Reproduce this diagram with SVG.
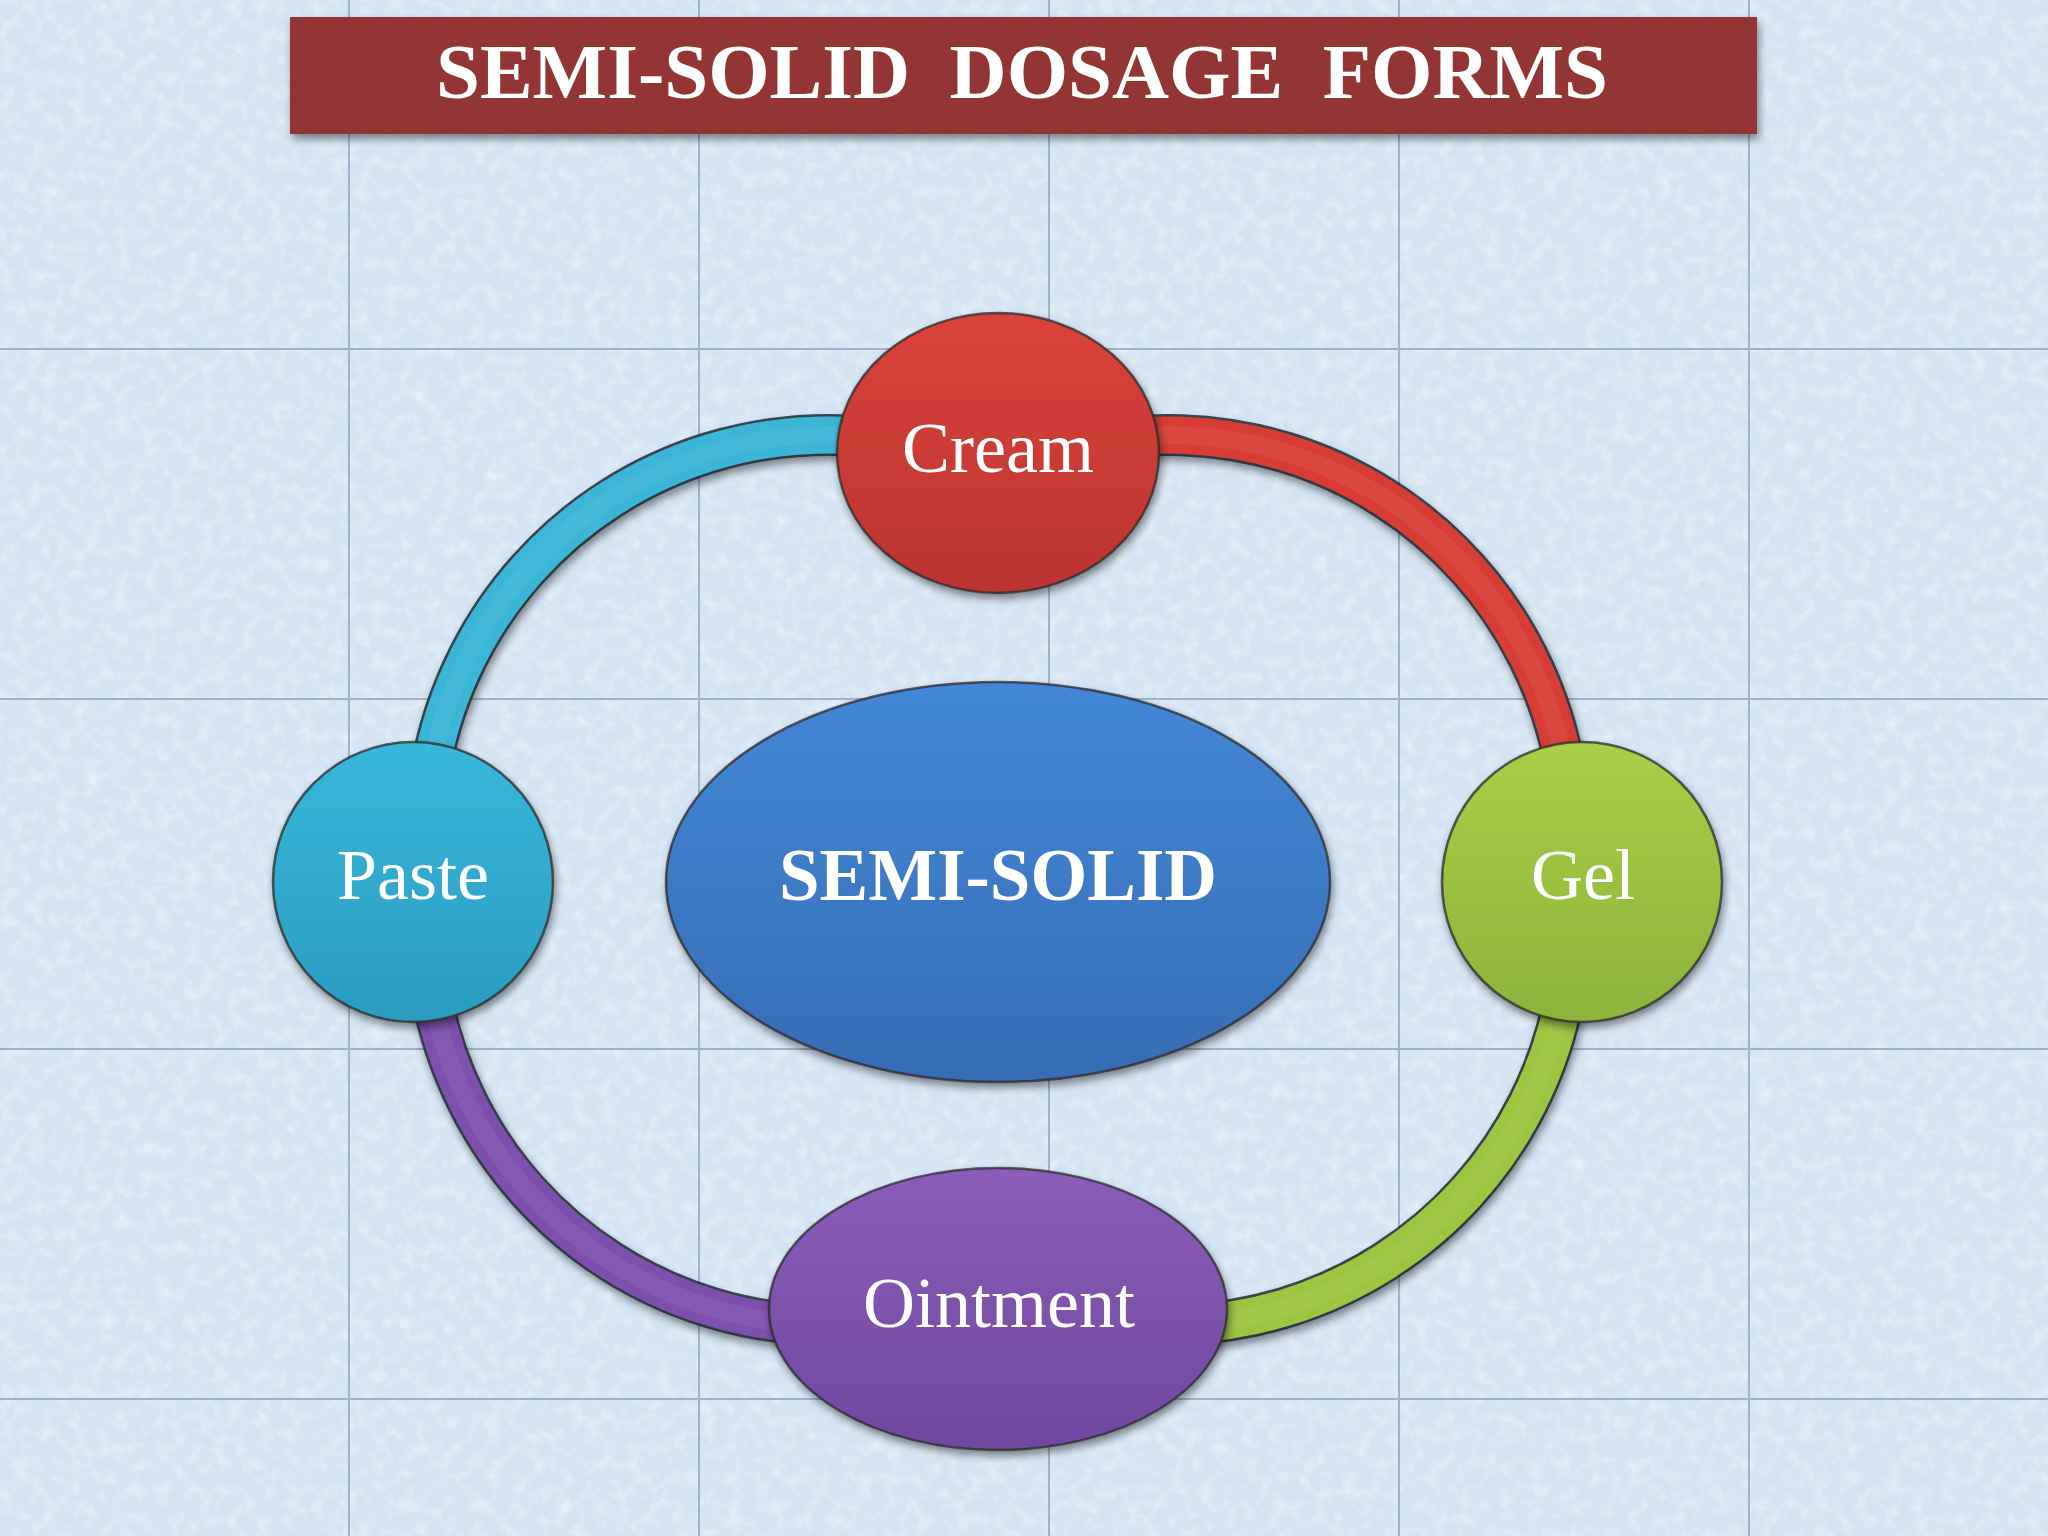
<svg xmlns="http://www.w3.org/2000/svg" width="2048" height="1536" viewBox="0 0 2048 1536">
  <defs>
    <style>
      .grid { stroke: #9fb3c8; stroke-width: 2; }
      .lbl { font-family: "Liberation Serif", "Times New Roman", serif; fill: #ffffff; text-anchor: middle; }
      .node-lbl { font-size: 72px; }
      .center-lbl { font-size: 73px; font-weight: bold; }
      .title-lbl { font-size: 79px; font-weight: bold; }
      .node-edge { stroke: #2b2b2b; stroke-opacity: 0.75; stroke-width: 2.5; }
      .tube-edge { fill: none; stroke: #1f2a33; stroke-opacity: 0.85; stroke-width: 42; }
      .tube { fill: none; stroke-width: 37; }
      .tube-hl { fill: none; stroke: #ffffff; stroke-opacity: 0.05; stroke-width: 18; }
    </style>
    <filter id="tex" x="0" y="0" width="100%" height="100%">
      <feTurbulence type="fractalNoise" baseFrequency="0.07" numOctaves="4" seed="7"/>
      <feColorMatrix type="matrix" values="0 0 0 0 1  0 0 0 0 1  0 0 0 0 1  2.0 0 0 0 -0.85"/>
    </filter>
    <filter id="shadow" x="-20%" y="-20%" width="140%" height="150%">
      <feGaussianBlur in="SourceAlpha" stdDeviation="4"/>
      <feOffset dx="2" dy="5" result="b"/>
      <feComponentTransfer><feFuncA type="linear" slope="0.45"/></feComponentTransfer>
      <feMerge><feMergeNode/><feMergeNode in="SourceGraphic"/></feMerge>
    </filter>
    <linearGradient id="gCream" x1="0" y1="0" x2="0" y2="1">
      <stop offset="0" stop-color="#da433b"/>
      <stop offset="1" stop-color="#bb3430"/>
    </linearGradient>
    <linearGradient id="gPaste" x1="0" y1="0" x2="0" y2="1">
      <stop offset="0" stop-color="#37b8da"/>
      <stop offset="1" stop-color="#2a9cc0"/>
    </linearGradient>
    <linearGradient id="gGel" x1="0" y1="0" x2="0" y2="1">
      <stop offset="0" stop-color="#a9ce47"/>
      <stop offset="1" stop-color="#8cb33a"/>
    </linearGradient>
    <linearGradient id="gOint" x1="0" y1="0" x2="0" y2="1">
      <stop offset="0" stop-color="#8c5cb8"/>
      <stop offset="1" stop-color="#70489f"/>
    </linearGradient>
    <linearGradient id="gCenter" x1="0" y1="0" x2="0" y2="1">
      <stop offset="0" stop-color="#4287d6"/>
      <stop offset="1" stop-color="#366db5"/>
    </linearGradient>
  </defs>

  <!-- background -->
  <rect x="0" y="0" width="2048" height="1536" fill="#d4e4f3"/>
  <rect x="0" y="0" width="2048" height="1536" filter="url(#tex)" opacity="0.45"/>
  <g id="grid">
    <line class="grid" x1="349" y1="0" x2="349" y2="1536"/>
    <line class="grid" x1="699" y1="0" x2="699" y2="1536"/>
    <line class="grid" x1="1049" y1="0" x2="1049" y2="1536"/>
    <line class="grid" x1="1399" y1="0" x2="1399" y2="1536"/>
    <line class="grid" x1="1749" y1="0" x2="1749" y2="1536"/>
    <line class="grid" x1="0" y1="349" x2="2048" y2="349"/>
    <line class="grid" x1="0" y1="699" x2="2048" y2="699"/>
    <line class="grid" x1="0" y1="1049" x2="2048" y2="1049"/>
    <line class="grid" x1="0" y1="1399" x2="2048" y2="1399"/>
  </g>

  <!-- title -->
  <g id="title">
    <rect x="290" y="17" width="1467" height="117" fill="#943634" filter="url(#shadow)"/>
    <text class="lbl title-lbl" x="1022" y="98" xml:space="preserve">SEMI-SOLID  DOSAGE  FORMS</text>
  </g>

  <!-- connectors (ring arcs) -->
  <g id="connectors" filter="url(#shadow)">
    <path class="tube-edge" d="M 425 838 A 403 403 0 0 1 998 472.6"/>
    <path class="tube" stroke="#3bb6d6" d="M 425 838 A 403 403 0 0 1 998 472.6"/>
    <path class="tube-hl" d="M 425 838 A 403 403 0 0 1 998 472.6"/>

    <path class="tube-edge" d="M 998 472.6 A 403 403 0 0 1 1571 838"/>
    <path class="tube" stroke="#d83d35" d="M 998 472.6 A 403 403 0 0 1 1571 838"/>
    <path class="tube-hl" d="M 998 472.6 A 403 403 0 0 1 1571 838"/>

    <path class="tube-edge" d="M 1571 922 A 403 403 0 0 1 998 1287.4"/>
    <path class="tube" stroke="#9cc540" d="M 1571 922 A 403 403 0 0 1 998 1287.4"/>
    <path class="tube-hl" d="M 1571 922 A 403 403 0 0 1 998 1287.4"/>

    <path class="tube-edge" d="M 998 1287.4 A 403 403 0 0 1 425 922"/>
    <path class="tube" stroke="#7f50ad" d="M 998 1287.4 A 403 403 0 0 1 425 922"/>
    <path class="tube-hl" d="M 998 1287.4 A 403 403 0 0 1 425 922"/>
  </g>

  <!-- nodes -->
  <g id="node-center" filter="url(#shadow)">
    <ellipse class="node-edge" cx="998" cy="882" rx="332" ry="200" fill="url(#gCenter)"/>
    <text class="lbl center-lbl" x="998" y="900">SEMI-SOLID</text>
  </g>
  <g id="node-cream" filter="url(#shadow)">
    <ellipse class="node-edge" cx="998" cy="453" rx="161" ry="140" fill="url(#gCream)"/>
    <text class="lbl node-lbl" x="998" y="472">Cream</text>
  </g>
  <g id="node-gel" filter="url(#shadow)">
    <circle class="node-edge" cx="1582" cy="882" r="140" fill="url(#gGel)"/>
    <text class="lbl node-lbl" x="1583" y="899">Gel</text>
  </g>
  <g id="node-ointment" filter="url(#shadow)">
    <ellipse class="node-edge" cx="998" cy="1309" rx="229" ry="141" fill="url(#gOint)"/>
    <text class="lbl node-lbl" x="999" y="1327">Ointment</text>
  </g>
  <g id="node-paste" filter="url(#shadow)">
    <circle class="node-edge" cx="413" cy="882" r="140" fill="url(#gPaste)"/>
    <text class="lbl node-lbl" x="413" y="899">Paste</text>
  </g>
</svg>
